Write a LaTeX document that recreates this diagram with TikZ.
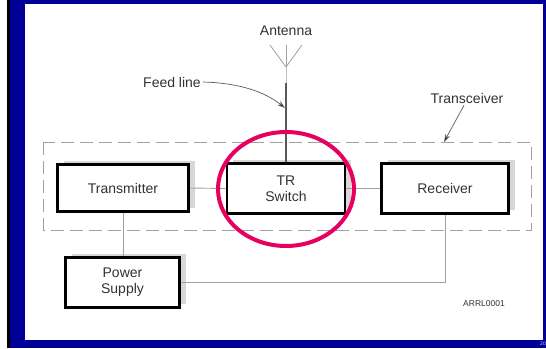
\documentclass[tikz,border=0pt]{standalone}
\usepackage{fontspec}
\setmainfont{Liberation Sans}
\usetikzlibrary{arrows.meta,shadows}
\definecolor{frameblue}{RGB}{0,0,150}
\definecolor{txt}{RGB}{50,50,50}
\definecolor{shade}{RGB}{215,215,215}
\definecolor{wire}{RGB}{160,160,160}
\definecolor{ringpink}{RGB}{232,0,96}
\tikzset{
  blockbox/.style={draw=black, line width=2.6pt, fill=white, text=txt,
    font=\fontsize{14}{16}\selectfont, align=center, inner sep=0pt,
    copy shadow={shadow xshift=6pt, shadow yshift=4pt, fill=shade, draw=none}},
  wireline/.style={draw=wire, line width=0.9pt},
  lbl/.style={text=txt, font=\fontsize{14}{16}\selectfont, inner sep=0pt},
  pointer/.style={draw=txt!80, line width=0.7pt, -{Stealth[length=8pt,width=5pt,fill=black]}},
}
\begin{document}
\begin{tikzpicture}[x=1pt,y=-1pt]
\useasboundingbox (0,0) rectangle (546,348);
% frame
\fill[white] (0,0) rectangle (546,348);
\fill[black] (7,0) rectangle (10,348);
\fill[frameblue] (10,0) rectangle (546,348);
\fill[white] (25,4) rectangle (543,340);
\node[text=white!80!frameblue, font=\fontsize{5}{5}\selectfont, inner sep=0pt] (pg) at (543,344) {20};

% transceiver dashed outline
\draw[wire, line width=1pt, dash pattern=on 13pt off 6pt] (43.5,142) rectangle (531,230);
\coordinate (trcvtop) at (444,142);

% blocks
\node[blockbox, minimum width=131pt, minimum height=47pt] (tx) at (123,188) {Transmitter};
\node[blockbox, minimum width=118pt, minimum height=50pt] (trs) at (286,188.5) {TR\\Switch};
\node[blockbox, minimum width=127pt, minimum height=50pt] (rx) at (445,188.5) {Receiver};
\node[blockbox, minimum width=114pt, minimum height=50pt] (ps) at (122.5,282.5) {Power\\Supply};

% connectors
\draw[wireline] (tx.east) -- (trs.west);
\draw[wireline] (trs.east) -- (rx.west);
\draw[wireline] (tx.south) -- (tx.south |- ps.north);
\draw[wireline] (rx.south) |- (ps.east);

% antenna
\coordinate (antbase) at (286,67);
\coordinate (antl) at (270,45);
\coordinate (antr) at (302,45);
\coordinate (antc) at (286,45);
\coordinate (feedtop) at (286,83);
\draw[wire, line width=0.8pt] (antl) -- (antbase) -- (antr);
\draw[wire, line width=0.8pt] (antc) -- (antbase);
\draw[black!25, line width=1pt] (antbase) -- (feedtop);
\draw[black!65, line width=2pt] (feedtop) -- (trs.north);
\node[lbl] (antlbl) at (286,31) {Antenna};

% feed line label
\node[lbl, anchor=east] (feedlbl) at (201,82) {Feed line};
\coordinate (feedtip) at (285,108);
\draw[pointer] (feedlbl.east) ++(2,0) .. controls (240,83) and (265,92) .. (feedtip);

% transceiver label
\node[lbl] (trcvlbl) at (467,98) {Transceiver};
\draw[pointer] (trcvlbl.south) ++(-3,2) coordinate (trcvstart) -- (trcvtop);

% label
\node[text=txt, font=\fontsize{8.5}{10}\selectfont, inner sep=0pt] (code) at (484,304) {ARRL0001};

% highlight ring
\draw[ringpink, line width=4pt] (286,189) ellipse [x radius=68pt, y radius=57pt];
\end{tikzpicture}
\end{document}
